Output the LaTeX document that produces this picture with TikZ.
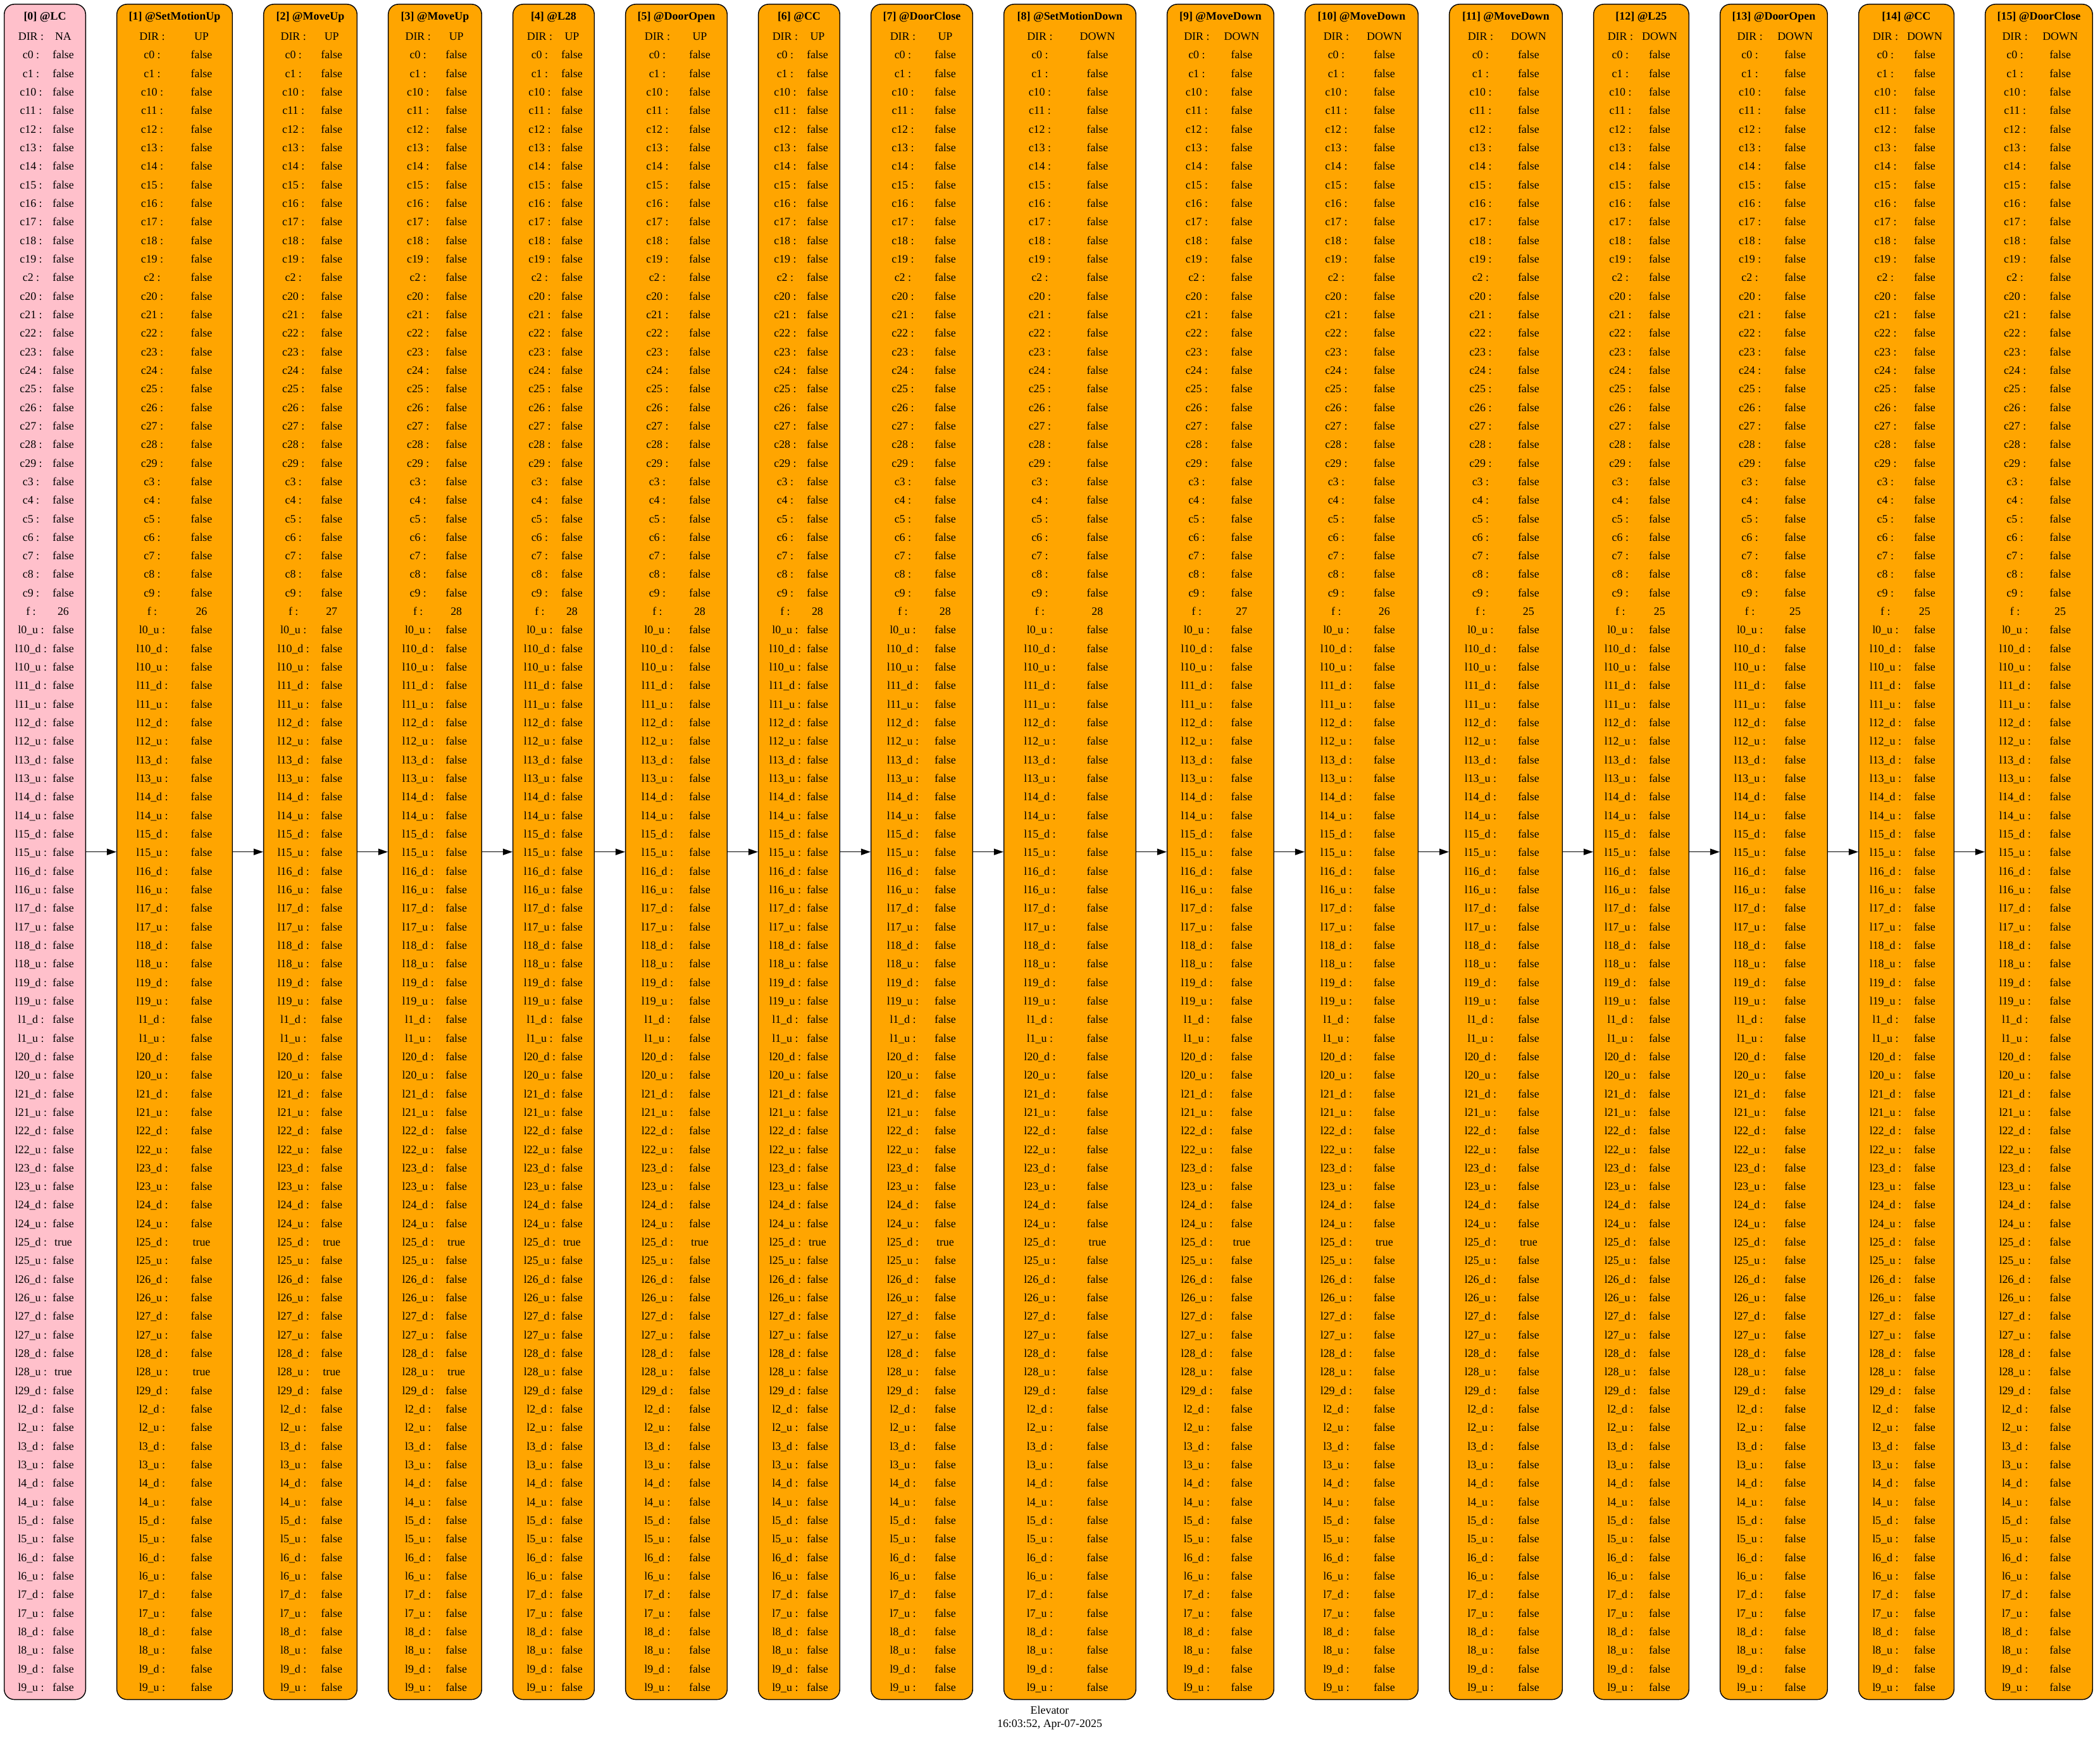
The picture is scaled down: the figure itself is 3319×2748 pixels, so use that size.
\documentclass[tikz,border=0pt]{standalone}
\usepackage{fontspec}
\setmainfont{Liberation Serif}
\usepackage{array}
\usepackage{etoolbox}
\usetikzlibrary{positioning,arrows.meta}

\definecolor{gvpink}{RGB}{255,192,203}
\definecolor{gvorange}{RGB}{255,165,0}

\newlength\gvpx
\setlength\gvpx{0.02cm}

% rows of one snapshot, in the order the trace prints them
\newcommand\rowlist{}
\xappto\rowlist{DIR : & \noexpand\dirv\noexpand\\}
\foreach \n in {0,1,10,11,12,13,14,15,16,17,18,19,2,20,21,22,23,24,25,26,27,28,29,3,4,5,6,7,8,9}
  {\xappto\rowlist{c\n{} : & false\noexpand\\}}
\xappto\rowlist{f : & \noexpand\fv\noexpand\\}
\xappto\rowlist{l0\noexpand\_u : & false\noexpand\\}
\foreach \n in {10,11,12,13,14,15,16,17,18,19,1,20,21,22,23,24,25,26,27,28}
  {\xappto\rowlist{l\n\noexpand\_d : & \ifnum\n=25 \noexpand\lvA\else false\fi\noexpand\\}%
   \xappto\rowlist{l\n\noexpand\_u : & \ifnum\n=28 \noexpand\lvB\else false\fi\noexpand\\}}
\xappto\rowlist{l29\noexpand\_d : & false\noexpand\\}
\foreach \n in {2,3,4,5,6,7,8,9}
  {\xappto\rowlist{l\n\noexpand\_d : & false\noexpand\\}%
   \xappto\rowlist{l\n\noexpand\_u : & false\noexpand\\}}

% key width, value width (px), title, DIR, f, l25_d, l28_u
\newcommand\statetab[7]{%
  \def\dirv{#4}\def\fv{#5}\def\lvA{#6}\def\lvB{#7}%
  \begin{tabular}{@{}w{c}{#1\gvpx}@{}w{c}{#2\gvpx}@{}}
    \multicolumn{2}{c}{\makebox[0pt]{\bfseries #3}}\\[1.5pt]
    \rowlist
  \end{tabular}}

\begin{document}
\begin{tikzpicture}[x=0.02cm,y=-0.02cm,
    statebox/.style={draw, line width=0.8pt, rounded corners=0.32cm, fill=gvorange,
      inner xsep=0.266cm, inner ysep=0.088cm, font=\fontsize{10.2}{16.69}\selectfont},
    flow/.style={-{Triangle[length=0.3cm,width=0.2cm]}, line width=0.8pt}]
  \useasboundingbox (0,0) rectangle (3319,2748);
  \node[statebox, fill=gvpink, anchor=north west] (s0) at (6,6)
    {\statetab{58}{44}{[0] @LC}{NA}{26}{true}{true}};
  \node[statebox, right=0.96cm of s0] (s1) {\statetab{85}{71}{[1] @SetMotionUp}{UP}{26}{true}{true}};
  \node[statebox, right=0.96cm of s1] (s2) {\statetab{67.5}{53.5}{[2] @MoveUp}{UP}{27}{true}{true}};
  \node[statebox, right=0.96cm of s2] (s3) {\statetab{67.5}{53.5}{[3] @MoveUp}{UP}{28}{true}{true}};
  \node[statebox, right=0.96cm of s3] (s4) {\statetab{58}{44}{[4] @L28}{UP}{28}{true}{false}};
  \node[statebox, right=0.96cm of s4] (s5) {\statetab{74}{60}{[5] @DoorOpen}{UP}{28}{true}{false}};
  \node[statebox, right=0.96cm of s5] (s6) {\statetab{58}{44}{[6] @CC}{UP}{28}{true}{false}};
  \node[statebox, right=0.96cm of s6] (s7) {\statetab{74}{60}{[7] @DoorClose}{UP}{28}{true}{false}};
  \node[statebox, right=0.96cm of s7] (s8) {\statetab{87}{95}{[8] @SetMotionDown}{DOWN}{28}{true}{false}};
  \node[statebox, right=0.96cm of s8] (s9) {\statetab{67}{75}{[9] @MoveDown}{DOWN}{27}{true}{false}};
  \node[statebox, right=0.96cm of s9] (s10) {\statetab{72}{80}{[10] @MoveDown}{DOWN}{26}{true}{false}};
  \node[statebox, right=0.96cm of s10] (s11) {\statetab{72}{80}{[11] @MoveDown}{DOWN}{25}{true}{false}};
  \node[statebox, right=0.96cm of s11] (s12) {\statetab{58}{66}{[12] @L25}{DOWN}{25}{false}{false}};
  \node[statebox, right=0.96cm of s12] (s13) {\statetab{67.5}{75.5}{[13] @DoorOpen}{DOWN}{25}{false}{false}};
  \node[statebox, right=0.96cm of s13] (s14) {\statetab{58}{66}{[14] @CC}{DOWN}{25}{false}{false}};
  \node[statebox, right=0.96cm of s14] (s15) {\statetab{67.5}{75.5}{[15] @DoorClose}{DOWN}{25}{false}{false}};
  \foreach \i in {0,...,14}{
    \pgfmathtruncatemacro\j{\i+1}
    \draw[flow] (s\i) -- (s\j);
  }
  \node[font=\fontsize{10.2}{12}\selectfont, align=center] (stamp) at (1659,2716)
    {Elevator\\16:03:52, Apr-07-2025};
\end{tikzpicture}
\end{document}
